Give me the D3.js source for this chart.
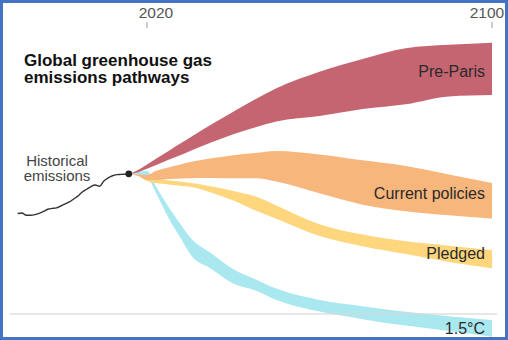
<!DOCTYPE html>
<html>
<head>
<meta charset="utf-8">
<script src="https://cdn.jsdelivr.net/npm/d3@7/dist/d3.min.js"></script>
<style>
  html, body { margin: 0; padding: 0; background: #fff; }
  svg { display: block; font-family: "Liberation Sans", Arial, sans-serif; }
</style>
</head>
<body>
<svg id="chart" width="508" height="340"></svg>
<script>
// ---------- data ----------
const histYears = [1990,1991,1992,1993,1994,1995,1996,1997,1998,1999,2000,2001,2002,2003,2004,2005,2006,2007,2008,2009,2010,2011,2012,2013,2014,2015,2016];
const histValues = [37.2,37.4,36.6,36.6,36.8,37.3,38.0,38.8,39.1,39.3,40.0,40.8,41.5,42.6,43.7,45.2,46.2,47.2,47.8,47.3,49.3,50.4,51.2,51.6,51.7,51.8,51.9];

const years = [2016,2018,2020,2022,2025,2028,2030,2035,2040,2045,2050,2060,2070,2080,2090,2100];
const preParisHigh = [51.9,53.4,55.4,57.4,60.4,63.4,65.4,70.3,74.9,79.4,83.6,89.7,94.4,98.4,99.7,100.5];
const preParisLow  = [51.9,52.5,53.8,55.1,57.1,59.0,60.4,63.6,66.6,69.1,71.3,73.3,75.9,77.7,80.6,81.1];
const currentHigh  = [51.9,51.7,51.5,53.0,54.3,55.5,56.3,57.7,58.8,59.6,60.4,59.1,56.9,54.8,51.7,48.5];
const currentLow   = [51.9,51.1,49.6,49.6,50.0,50.2,50.3,50.4,50.3,50.3,49.1,44.7,40.5,38.1,36.6,35.4];
const pledgedHigh  = [51.9,51.3,50.4,50.0,49.5,49.0,48.6,47.2,45.6,43.6,40.2,33.2,29.4,26.9,25.3,23.7];
const pledgedLow   = [51.9,51.1,49.3,48.5,48.0,47.4,47.1,44.9,42.0,38.4,35.3,28.9,25.1,22.2,19.3,16.9];
const c15High      = [51.9,52.6,53.1,47.4,39.6,32.7,28.4,22.3,16.6,13.0,9.4,5.2,2.9,0.8,-0.8,-2.2];
const c15Low       = [51.9,51.3,50.7,45.1,35.6,27.6,22.2,16.6,11.3,8.8,5.2,0.9,-1.9,-4.3,-6.3,-8.4];

const tickYears = [2020, 2100];
const titleLines = ["Global greenhouse gas","emissions pathways"];
const histLabel = ["Historical","emissions"];

// ---------- setup ----------
const svg = d3.select("#chart");
const x = d3.scaleLinear().domain([2020, 2100]).range([147, 492]);
const y = d3.scaleLinear().domain([0, 100]).range([314, 44]);

const series = [
  {name: "1.5°C", hi: c15High, lo: c15Low, color: "#a9e8ef", dy: 6},
  {name: "Pre-Paris", hi: preParisHigh, lo: preParisLow, color: "#c46571", dy: 8},
  {name: "Pledged", hi: pledgedHigh, lo: pledgedLow, color: "#fdd67d", dy: 0},
  {name: "Current policies", hi: currentHigh, lo: currentLow, color: "#f7b67b", dy: -2}
];

const area = d3.area()
  .x(d => x(d.year))
  .y0(d => y(d.lo))
  .y1(d => y(d.hi))
  .curve(d3.curveMonotoneX);

series.forEach(s => {
  const pts = years.map((yr, i) => ({year: yr, hi: s.hi[i], lo: s.lo[i]}));
  svg.append("path")
    .attr("d", area(pts))
    .attr("fill", s.color);
});

// zero baseline
svg.append("line")
  .attr("x1", x(1990) - 8).attr("x2", x(2100) + 5)
  .attr("y1", y(0)).attr("y2", y(0))
  .attr("stroke", "#d8d8d8").attr("stroke-opacity", 0.8)
  .attr("stroke-width", 1.5);

// historical line
const histPts = histYears.map((yr, i) => ({year: yr, v: histValues[i]}));
svg.append("path")
  .attr("d", d3.line().x(d => x(d.year)).y(d => y(d.v)).curve(d3.curveMonotoneX)(histPts))
  .attr("fill", "none")
  .attr("stroke", "#333")
  .attr("stroke-width", 1.4);

const last = histPts[histPts.length - 1];
svg.append("circle")
  .attr("cx", x(last.year) - 1).attr("cy", y(last.v))
  .attr("r", 3.4).attr("fill", "#222");

// top axis ticks
const tickOffsets = {2020: 9, 2100: -5};
tickYears.forEach(t => {
  svg.append("line")
    .attr("x1", x(t)).attr("x2", x(t))
    .attr("y1", 22).attr("y2", 28)
    .attr("stroke", "#999").attr("stroke-width", 1);
  svg.append("text")
    .attr("x", x(t) + tickOffsets[t]).attr("y", 17.5)
    .attr("text-anchor", "middle")
    .attr("font-size", 15.5)
    .attr("fill", "#555")
    .text(t);
});

// title
titleLines.forEach((t, i) => {
  svg.append("text")
    .attr("x", 24).attr("y", 65.7 + i * 17.6)
    .attr("font-size", 17)
    .attr("font-weight", "bold")
    .attr("fill", "#111")
    .text(t);
});

// historical label
histLabel.forEach((t, i) => {
  svg.append("text")
    .attr("x", 57).attr("y", 165.5 + i * 15.5)
    .attr("text-anchor", "middle")
    .attr("font-size", 15)
    .attr("fill", "#444")
    .text(t);
});

// series labels
series.forEach(s => {
  const n = years.length - 1;
  const mid = (s.hi[n] + s.lo[n]) / 2;
  svg.append("text")
    .attr("x", x(2100) - 7)
    .attr("y", y(mid) + s.dy)
    .attr("text-anchor", "end")
    .attr("font-size", 16)
    .attr("fill", "#2a2a2a")
    .text(s.name);
});

// frame
svg.append("rect")
  .attr("x", 1.5).attr("y", 1.5)
  .attr("width", 505).attr("height", 337)
  .attr("fill", "none")
  .attr("stroke", "#4472c4")
  .attr("stroke-width", 3);
</script>
</body>
</html>
